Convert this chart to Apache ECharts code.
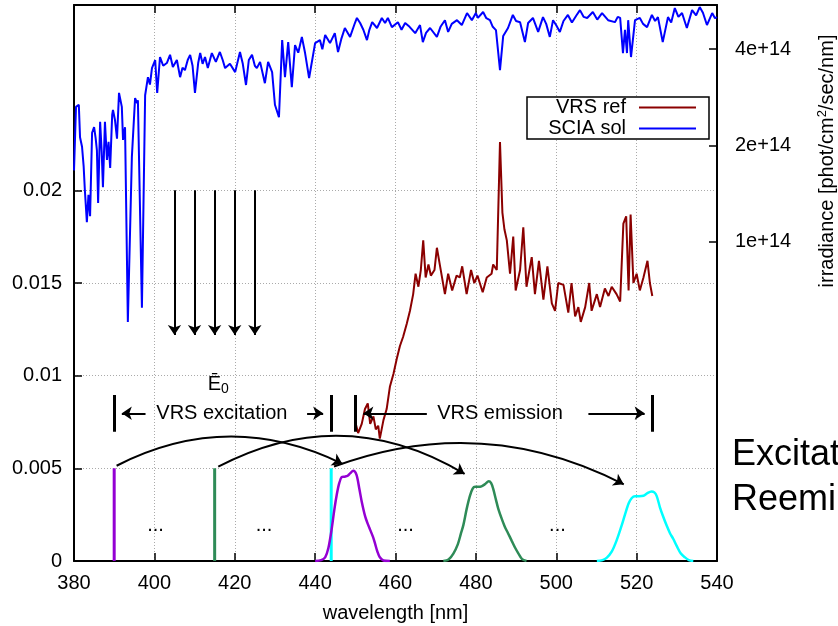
<!DOCTYPE html>
<html><head><meta charset="utf-8">
<script src="https://cdn.jsdelivr.net/npm/echarts@6.0.0/dist/echarts.min.js"></script>
<style>html,body{margin:0;padding:0;background:#fff}#c{width:838px;height:626px}</style>
</head><body><div id="c"></div>
<script>
// ---------- data ----------
const xTicks = [380, 400, 420, 440, 460, 480, 500, 520, 540];
const leftTicks = [0, 0.005, 0.01, 0.015, 0.02];
const rightTicks = [1, 2, 4]; // x 1e14

// SCIA solar irradiance (units of 1e14 phot/cm2/sec/nm)
const sciaWl = [380.0,380.5,381.2,381.5,382.0,382.4,382.7,383.2,383.6,384.0,384.5,385.0,385.4,385.7,386.0,386.5,386.9,387.2,387.7,388.2,388.6,389.0,389.5,389.7,390.2,390.7,391.2,391.9,392.2,392.7,393.4,394.4,395.2,395.7,395.9,396.9,397.7,398.4,398.9,399.4,400.2,400.7,401.4,402.2,403.1,403.9,404.6,405.6,406.4,407.0,407.6,408.3,408.9,409.5,410.1,410.9,411.4,412.0,412.6,413.3,414.3,415.3,416.3,417.0,417.6,418.8,420.1,421.3,422.0,422.8,423.5,424.3,425.0,425.5,426.3,427.5,428.3,429.3,430.0,431.0,431.8,432.5,433.3,434.2,435.0,435.8,436.7,437.5,438.5,440.0,441.2,441.8,442.5,443.7,444.9,445.7,446.5,447.4,448.7,449.9,450.4,451.2,452.0,452.9,453.5,454.2,455.4,456.6,457.4,458.1,459.1,460.6,461.5,462.4,463.5,464.9,466.1,466.8,467.6,468.6,470.3,471.2,472.3,473.1,474.0,475.3,476.5,477.8,479.0,480.0,480.5,481.8,482.6,483.5,484.2,485.0,486.0,486.8,488.0,489.2,490.0,491.0,492.2,493.0,494.2,495.5,496.7,497.5,498.4,499.2,500.0,500.9,501.8,502.9,503.9,505.0,505.9,506.8,507.7,509.1,510.2,511.4,512.9,514.6,515.3,515.9,516.6,517.1,517.6,517.9,518.6,519.6,520.8,521.6,522.6,523.8,524.6,525.3,526.5,527.8,528.6,529.5,530.4,531.3,532.5,533.8,534.8,535.7,536.5,537.5,538.8,539.5,540.0];
const sciaIrr = [1.67,2.64,2.68,2.12,1.98,1.72,1.45,1.15,1.40,1.20,2.19,2.28,2.10,1.93,1.32,2.37,1.90,1.48,2.37,1.80,2.05,1.70,2.49,2.58,2.40,2.10,2.92,2.64,2.08,2.28,0.56,1.84,2.81,2.71,2.77,0.62,2.87,3.27,3.10,3.49,3.70,2.92,3.78,3.55,3.62,3.84,3.52,3.70,3.27,3.50,3.44,3.70,3.84,3.55,2.92,3.62,3.89,3.60,3.78,3.49,3.89,3.65,3.92,3.70,3.49,3.60,3.39,3.92,3.60,3.09,3.70,3.84,3.55,3.49,3.65,3.13,3.65,3.39,2.68,2.45,4.27,3.27,4.21,3.04,4.12,3.90,4.37,3.89,3.25,4.18,4.27,4.00,4.43,4.18,4.49,3.92,4.30,4.66,4.37,4.83,5.01,4.83,4.60,4.27,4.60,4.86,4.66,5.01,4.83,5.01,4.69,4.86,4.60,4.83,4.70,4.49,4.76,4.21,4.50,4.66,4.37,4.70,4.93,4.53,4.80,4.93,4.76,5.19,4.93,5.19,5.01,5.23,5.00,4.93,4.70,4.59,3.44,4.40,4.66,5.12,4.90,4.86,4.21,4.83,5.01,4.53,5.04,4.80,4.37,4.93,4.75,4.53,4.90,5.12,4.85,5.10,5.30,5.05,5.01,5.23,4.95,5.19,4.93,4.86,5.05,5.01,3.89,4.60,3.89,4.93,3.78,4.93,5.01,4.80,4.69,5.12,4.90,5.04,4.21,5.04,4.85,5.38,5.05,5.19,4.66,5.30,5.10,5.42,5.20,4.76,5.19,5.00,5.04];

// VRS reference spectrum
const vrsWl = [449.9,450.7,451.6,452.4,453.1,453.7,454.5,455.1,455.7,456.1,457.0,457.8,458.6,459.5,460.3,461.1,461.9,462.8,463.6,464.4,465.0,465.7,466.3,466.9,467.5,468.2,468.8,469.7,470.3,471.1,472.3,473.1,474.1,475.2,476.0,476.6,477.7,478.8,479.6,480.4,481.7,482.7,483.9,484.3,485.2,486.0,486.6,487.1,487.7,488.5,489.3,489.9,491.0,491.8,492.6,493.9,494.7,495.7,496.8,497.8,498.9,499.7,500.5,501.8,503.0,503.8,504.7,505.5,506.1,507.2,508.2,508.8,510.1,510.9,512.1,513.0,513.8,515.0,515.9,516.7,517.4,518.0,518.5,519.2,520.0,520.8,521.7,522.7,523.3,523.9];
const vrsVal = [0.0076,0.0069,0.0074,0.0082,0.0085,0.0074,0.0078,0.0071,0.0073,0.0066,0.0076,0.0082,0.0094,0.0101,0.0109,0.0116,0.0121,0.0128,0.0135,0.0144,0.0155,0.0148,0.0157,0.0173,0.0153,0.0160,0.0154,0.0157,0.0169,0.0159,0.0144,0.0155,0.0146,0.0154,0.0153,0.0159,0.0144,0.0157,0.0150,0.0154,0.0145,0.0153,0.0155,0.0160,0.0157,0.0226,0.0188,0.0179,0.0173,0.0155,0.0175,0.0146,0.0157,0.0180,0.0148,0.0164,0.0144,0.0162,0.0141,0.0159,0.0139,0.0135,0.0150,0.0149,0.0134,0.0150,0.0132,0.0137,0.0129,0.0137,0.0150,0.0135,0.0144,0.0137,0.0147,0.0143,0.0148,0.0144,0.0140,0.0182,0.0186,0.0146,0.0187,0.0150,0.0155,0.0146,0.0153,0.0162,0.0150,0.0143];

// excitation wavelengths (vertical coloured lines) and their emission bands
const excWl = [390, 415, 444];
const excHeight = 0.005;
const bandColors = ['#9400d3', '#2e8b57', '#00ffff'];
const band1Wl = [440.0,441.5,442.5,443.3,444.1,444.8,445.4,446.0,446.6,447.4,448.1,448.7,449.5,450.3,451.0,451.6,452.4,453.1,453.7,454.4,454.9,455.5,456.1,457.0,458.6];
const band1Val = [0,0.00005,0.0002,0.0007,0.0017,0.0028,0.0036,0.0042,0.00452,0.00455,0.0046,0.00473,0.00487,0.00465,0.0039,0.0032,0.00245,0.002,0.00168,0.0013,0.00095,0.0005,0.0002,0.00003,0];
const band2Wl = [471.9,473.2,474.4,475.5,476.3,476.9,477.7,478.5,479.2,479.8,480.6,481.4,482.3,483.2,483.8,484.3,485.0,485.6,486.4,487.2,488.0,488.9,489.8,490.6,491.5,492.6];
const band2Val = [0,0.00008,0.0004,0.0009,0.0015,0.00195,0.0028,0.0035,0.0039,0.0040,0.0040,0.00403,0.00415,0.0043,0.0042,0.0039,0.0033,0.0028,0.0023,0.00185,0.0015,0.0011,0.0007,0.0004,0.0001,0];
const band3Wl = [510.1,511.5,512.6,513.8,515.0,516.1,517.1,518.0,518.8,519.6,520.6,521.7,522.6,523.7,524.4,525.0,525.8,526.6,527.5,528.3,529.1,530.0,531.0,532.0,533.0,534.1];
const band3Val = [0,0.00005,0.00018,0.0005,0.0011,0.0018,0.0025,0.0031,0.0034,0.0035,0.0035,0.00352,0.00365,0.00375,0.0037,0.0035,0.0029,0.0024,0.0019,0.0015,0.0012,0.0008,0.0004,0.0002,0.00005,0];

// annotation: E0 sampling arrows
const e0ArrowWl = [405, 410, 415, 420, 425];
const e0ArrowFrom = 0.02;
const e0ArrowTo = 0.0122;
// range brackets
const bracketWl = [390, 444, 449.9, 523.9];
const bracketLow = 0.00698, bracketHigh = 0.00896;
const rangeArrowY = 0.00797;
const rangeArrows = [[397.8, 391.9], [438.0, 442.0], [467.8, 452.0], [508.0, 522.0]];
// curved arrows: [startWl, startVal, endWl, endVal, curveness]
const curveArrows = [
  [390.6, 0.00514, 446.8, 0.00524, 0.25],
  [415.9, 0.00509, 477.2, 0.00470, 0.28],
  [444.7, 0.00510, 516.8, 0.00414, 0.22]
];
// text annotations: [wl, val, text]
const notes = [
  [416.8, 0.00797, 'VRS excitation'],
  [486.0, 0.00797, 'VRS emission'],
  [400.3, 0.0019, '...'],
  [427.3, 0.0019, '...'],
  [462.5, 0.0019, '...'],
  [500.3, 0.0019, '...']
];
const e0Label = [415.9, 0.00955];

// ---------- chart ----------
const FONT = 'Liberation Sans, Arial, Helvetica, sans-serif';
const zip = (a, b) => a.map((v, i) => [v, b[i]]);
const chart = echarts.init(document.getElementById('c'), null, {renderer: 'canvas'});

const series = [
  {name: 'SCIA sol', type: 'line', yAxisIndex: 1, data: zip(sciaWl, sciaIrr), symbol: 'none',
   lineStyle: {color: '#0000ff', width: 2}, itemStyle: {color: '#0000ff'}, z: 3},
  {name: 'VRS ref', type: 'line', yAxisIndex: 0, data: zip(vrsWl, vrsVal), symbol: 'none',
   lineStyle: {color: '#8b0000', width: 2}, itemStyle: {color: '#8b0000'}, z: 3}
];
excWl.forEach((w, i) => series.push({
  type: 'line', yAxisIndex: 0, data: [[w, 0], [w, excHeight]], symbol: 'none',
  lineStyle: {color: bandColors[i], width: 3}, z: 4
}));
[[band1Wl, band1Val], [band2Wl, band2Val], [band3Wl, band3Val]].forEach((b, i) => series.push({
  type: 'line', yAxisIndex: 0, data: zip(b[0], b[1]), symbol: 'none', smooth: 0.3,
  lineStyle: {color: bandColors[i], width: 2.5}, z: 4
}));
series.push({
  type: 'lines', coordinateSystem: 'cartesian2d', xAxisIndex: 0, yAxisIndex: 0,
  symbol: ['none', 'arrow'], symbolSize: 10,
  lineStyle: {color: '#000', width: 2, opacity: 1}, itemStyle: {color: '#000'}, z: 5,
  data: e0ArrowWl.map(w => ({coords: [[w, e0ArrowFrom], [w, e0ArrowTo]]}))
    .concat(rangeArrows.map(a => ({coords: [[a[0], rangeArrowY], [a[1], rangeArrowY]]})))
});
series.push({
  type: 'lines', coordinateSystem: 'cartesian2d', xAxisIndex: 0, yAxisIndex: 0,
  symbol: 'none', lineStyle: {color: '#000', width: 3, opacity: 1}, z: 5,
  data: bracketWl.map(w => ({coords: [[w, bracketLow], [w, bracketHigh]]}))
});
series.push({
  type: 'lines', coordinateSystem: 'cartesian2d', xAxisIndex: 0, yAxisIndex: 0,
  symbol: ['none', 'arrow'], symbolSize: 10,
  lineStyle: {color: '#000', width: 2, opacity: 1}, itemStyle: {color: '#000'}, z: 5,
  data: curveArrows.map(c => ({coords: [[c[0], c[1]], [c[2], c[3]]], lineStyle: {curveness: c[4]}}))
});
series.push({
  type: 'scatter', yAxisIndex: 0, symbolSize: 0, z: 6, itemStyle: {opacity: 1, color: '#000'},
  data: notes.map(n => ({value: [n[0], n[1]], label: {formatter: n[2]}})),
  label: {show: true, position: 'inside', color: '#000', fontSize: 20, fontFamily: FONT}
});
series.push({
  type: 'scatter', yAxisIndex: 0, symbolSize: 0, z: 6, itemStyle: {opacity: 1, color: '#000'},
  data: [{value: e0Label}],
  label: {show: true, position: 'inside', color: '#000', fontFamily: FONT,
    formatter: '{e|Ē}{s|0}',
    rich: {e: {fontSize: 20, fontFamily: FONT, color: '#000'},
           s: {fontSize: 14, fontFamily: FONT, color: '#000', padding: [10, 0, 0, 0]}}}
});

const axisLine = {show: true, lineStyle: {color: '#000', width: 2}};
const tickStyle = {show: true, inside: true, length: 8, lineStyle: {color: '#000', width: 1.5}};
const gridLine = {show: true, lineStyle: {color: '#aaaaaa', type: [1, 2], width: 1}};

chart.setOption({
  animation: false,
  backgroundColor: '#fff',
  textStyle: {fontFamily: FONT},
  grid: {left: 74, right: 121, top: 5, bottom: 65, outerBoundsMode: 'none'},
  legend: {
    data: ['VRS ref', 'SCIA sol'], orient: 'vertical', left: 527, top: 97, align: 'right',
    icon: 'rect', itemWidth: 57, itemHeight: 2, itemGap: 0,
    padding: [0, 13, 0, 19], borderColor: '#000', borderWidth: 1.5, backgroundColor: '#fff',
    textStyle: {fontSize: 20, color: '#000', fontFamily: FONT, width: 80, lineHeight: 21, padding: [0, 8, 0, 0], align: 'right'}
  },
  xAxis: [
    {type: 'value', min: xTicks[0], max: xTicks[xTicks.length - 1], interval: 20, position: 'bottom',
     name: 'wavelength [nm]', nameLocation: 'middle', nameGap: 42,
     nameTextStyle: {fontSize: 20, color: '#000', fontFamily: FONT},
     axisLine, axisTick: tickStyle, splitLine: gridLine,
     axisLabel: {fontSize: 20, color: '#000', margin: 12, fontFamily: FONT}},
    {type: 'value', min: xTicks[0], max: xTicks[xTicks.length - 1], interval: 20, position: 'top',
     axisLine, axisTick: tickStyle, splitLine: {show: false}, axisLabel: {show: false}}
  ],
  yAxis: [
    {type: 'value', min: 0, max: 0.03, position: 'left',
     axisLine, axisTick: Object.assign({customValues: leftTicks}, tickStyle), splitLine: gridLine,
     axisLabel: {customValues: leftTicks, fontSize: 20, color: '#000', margin: 12, fontFamily: FONT,
       formatter: v => String(+v.toFixed(4))}},
    {type: 'log', logBase: 10, min: 0.1, max: 5.5, position: 'right',
     axisLine, axisTick: Object.assign({customValues: rightTicks}, tickStyle), splitLine: {show: false},
     minorTick: {show: false},
     axisLabel: {customValues: rightTicks, fontSize: 20, color: '#000', margin: 18, fontFamily: FONT,
       formatter: v => Math.round(v) + 'e+14'}}
  ],
  graphic: [
    {type: 'text', x: 827, y: 161, rotation: Math.PI / 2,
     style: {text: 'irradiance [phot/cm{sup|2}/sec/nm]', align: 'center', verticalAlign: 'middle',
       fontSize: 20, fontFamily: FONT, fill: '#000',
       rich: {sup: {fontSize: 13, fontFamily: FONT, padding: [0, 0, 9, 0]}}}},
    {type: 'text', x: 732, y: 455, style: {text: 'Excitat', fontSize: 36, fontFamily: FONT, fill: '#000', verticalAlign: 'middle'}},
    {type: 'text', x: 732, y: 500, style: {text: 'Reemi', fontSize: 36, fontFamily: FONT, fill: '#000', verticalAlign: 'middle'}}
  ],
  series
});
</script></body></html>
